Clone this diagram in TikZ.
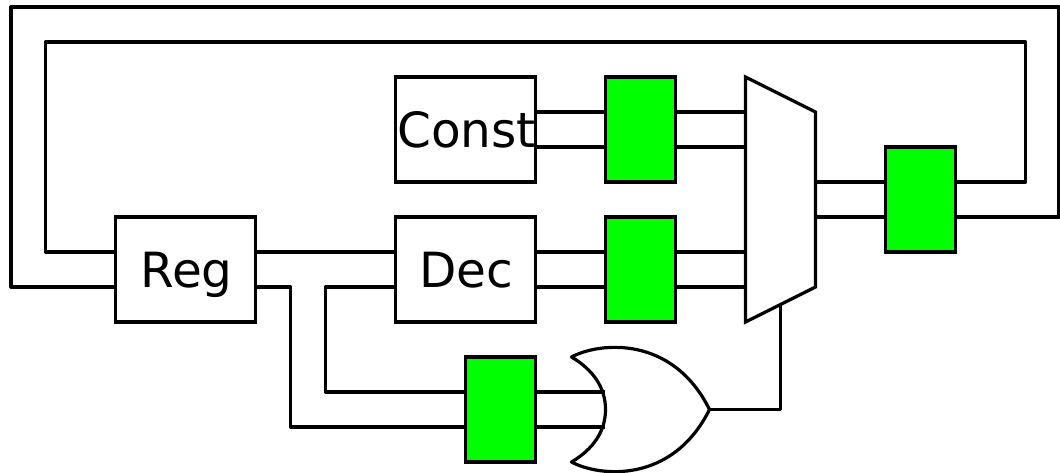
\documentclass[tikz,border=0pt]{standalone}
\usepackage{fontspec}
\setmainfont{DejaVu Sans}
\begin{document}
\begin{tikzpicture}[x=1pt,y=-1pt,line width=3.2pt,line join=round,
  wire/.style={draw=black,line cap=butt},
  unitbox/.style={draw=black,line join=miter,fill=white,minimum width=140pt,minimum height=105pt,inner sep=0pt,outer sep=0pt,text height=36pt,text depth=0pt,font=\fontsize{48.5}{49}\selectfont},
  latch/.style={draw=black,line join=miter,fill=green,minimum width=70pt,minimum height=105pt,inner sep=0pt,outer sep=0pt},
  gateshape/.style={draw=black,line join=miter,fill=white},
  orshape/.style={draw=black,line join=round,fill=white},
  up/.style={yshift=17.5pt},
  dn/.style={yshift=-17.5pt}]
\useasboundingbox (0,0) rectangle (1060,472);
\fill[white] (0,0) rectangle (1060,472);
\begin{scope}[xshift=-0.5pt]
% mux and or gate
\draw[gateshape] (746,77) -- (816,112) -- (816,287) -- (746,322) -- cycle;
\draw[orshape] (572,357) .. controls (600,342) and (673,335) .. (710,409.5)
  .. controls (673,484) and (600,477) .. (572,462)
  .. controls (594,449) and (606,431) .. (606,409.5)
  .. controls (606,388) and (594,370) .. (572,357) -- cycle;
% port coordinates
\coordinate (muxA) at (746,112);
\coordinate (muxB) at (746,147);
\coordinate (muxC) at (746,252);
\coordinate (muxD) at (746,287);
\coordinate (muxE) at (816,182);
\coordinate (muxF) at (816,217);
\coordinate (muxS) at (781,304.5);
\coordinate (orA) at (605,392);
\coordinate (orB) at (605,427);
\coordinate (orO) at (710,409.5);
\coordinate (topInner) at (46,42);
\coordinate (topInnerR) at (1026,42);
\coordinate (topOuter) at (11.5,7);
\coordinate (topOuterR) at (1059.5,7);
\coordinate (regDrop) at (291,427);
\coordinate (decDrop) at (326,392);
% boxes
\node[unitbox] (const) at (466,129.5) {\hspace*{2pt}Const};
\node[unitbox] (reg) at (186,269.5) {\hspace*{2pt}Reg};
\node[unitbox] (dec) at (466,269.5) {\hspace*{2pt}Dec};
\node[latch] (l1) at (641,129.5) {};
\node[latch] (l2) at (641,269.5) {};
\node[latch] (l3) at (501,409.5) {};
\node[latch] (l4) at (921,199.5) {};
% wires
\draw[wire] ([up]const.east) -- ([up]l1.west);
\draw[wire] ([dn]const.east) -- ([dn]l1.west);
\draw[wire] ([up]l1.east) -- (muxA);
\draw[wire] ([dn]l1.east) -- (muxB);
\draw[wire] ([up]dec.east) -- ([up]l2.west);
\draw[wire] ([dn]dec.east) -- ([dn]l2.west);
\draw[wire] ([up]l2.east) -- (muxC);
\draw[wire] ([dn]l2.east) -- (muxD);
\draw[wire] (muxE) -- ([up]l4.west);
\draw[wire] (muxF) -- ([dn]l4.west);
\draw[wire] ([up]reg.east) -- ([up]dec.west);
\draw[wire] ([dn]reg.east) -| (regDrop) -- ([dn]l3.west);
\draw[wire] ([dn]dec.west) -| (decDrop) -- ([up]l3.west);
\draw[wire] ([up]l3.east) -- (orA);
\draw[wire] ([dn]l3.east) -- (orB);
\draw[wire] (orO) -| (muxS);
\draw[wire] ([up]reg.west) -| (topInner) -- (topInnerR) |- ([up]l4.east);
\draw[wire] ([dn]reg.west) -| (topOuter) -- (topOuterR) |- ([dn]l4.east);
\end{scope}
\end{tikzpicture}
\end{document}
